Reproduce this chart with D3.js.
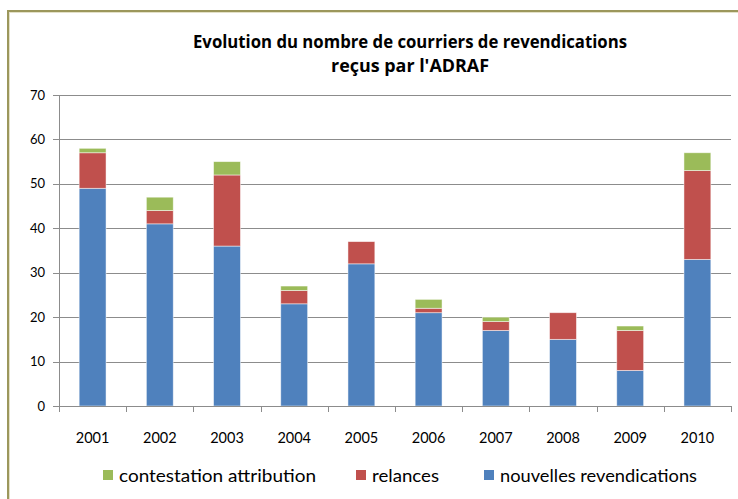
<!DOCTYPE html>
<html>
<head>
<meta charset="utf-8">
<script src="https://cdn.jsdelivr.net/npm/d3@7"></script>
<style>
body{margin:0;background:#fff;}
text{font-family:Lato,"Open Sans",sans-serif;fill:#000;}
</style>
</head>
<body>
<div id="chart-area"></div>
<script>
// data
var years=["2001","2002","2003","2004","2005","2006","2007","2008","2009","2010"];
var nouvelles=[49,41,36,23,32,21,17,15,8,33];
var relances=[8,3,16,3,5,1,2,6,9,20];
var contestation=[1,3,3,1,0,2,1,0,1,4];
var seriesNames=["nouvelles revendications","relances","contestation attribution"];
var seriesColors=["#4f81bd","#c0504d","#9bbb59"];
var yTicks=[0,10,20,30,40,50,60,70];

var W=738,H=499;
var margin={left:59,right:7,top:95,bottom:93};
var width=W-margin.left-margin.right;
var height=H-margin.top-margin.bottom;

var svg=d3.select("#chart-area").append("svg")
	.attr("width",W)
	.attr("height",H);

// outer frame
svg.append("rect")
	.attr("x",8).attr("y",11)
	.attr("width",W+10).attr("height",H+10)
	.attr("fill","none")
	.attr("stroke","#9c975c")
	.attr("stroke-width",2);
svg.append("rect")
	.attr("x",9.5).attr("y",12.5)
	.attr("width",W+10).attr("height",H+10)
	.attr("fill","none")
	.attr("stroke","#e4e1c8")
	.attr("stroke-width",1);

// title
svg.append("text")
	.attr("x",410).attr("y",48)
	.attr("text-anchor","middle")
	.attr("font-size","17px")
	.attr("font-weight","bold")
	.style("font-family","'Open Sans',sans-serif")
	.attr("textLength",434)
	.attr("lengthAdjust","spacingAndGlyphs")
	.text("Evolution du nombre de courriers de revendications");
svg.append("text")
	.attr("x",410).attr("y",72)
	.attr("text-anchor","middle")
	.attr("font-size","17px")
	.attr("font-weight","bold")
	.style("font-family","'Open Sans',sans-serif")
	.attr("textLength",158)
	.attr("lengthAdjust","spacingAndGlyphs")
	.text("reçus par l'ADRAF");

var g=svg.append("g")
	.attr("transform","translate("+margin.left+","+margin.top+")");

var x=d3.scaleBand()
	.domain(years)
	.range([0,width])
	.paddingInner(0.6)
	.paddingOuter(0.3);

var y=d3.scaleLinear()
	.domain([0,70])
	.range([height,0]);

// gridlines
g.append("g")
	.selectAll("line")
	.data(yTicks)
	.enter().append("line")
	.attr("x1",-6).attr("x2",width)
	.attr("y1",d=>Math.round(y(d))+0.5)
	.attr("y2",d=>Math.round(y(d))+0.5)
	.attr("stroke","#8c8c8c")
	.attr("stroke-width",1);

g.append("g")
	.selectAll("text")
	.data(yTicks)
	.enter().append("text")
	.attr("x",-14)
	.attr("y",d=>y(d)+4.5)
	.attr("text-anchor","end")
	.attr("font-size","13px")
	.text(d=>d);

// stacked bars
var table=years.map((yr,i)=>({year:yr,a:nouvelles[i],b:relances[i],c:contestation[i]}));
var stack=d3.stack().keys(["a","b","c"])(table);

g.selectAll("g.layer")
	.data(stack)
	.enter().append("g")
	.attr("class","layer")
	.attr("fill",(d,i)=>seriesColors[i])
	.selectAll("rect")
	.data(d=>d.filter(p=>p[1]>p[0]))
	.enter().append("rect")
	.attr("x",d=>x(d.data.year))
	.attr("y",d=>y(d[1]))
	.attr("width",x.bandwidth())
	.attr("height",d=>y(d[0])-y(d[1]))
	.attr("stroke","#ffffff")
	.attr("stroke-opacity",0.6)
	.attr("stroke-width",0.8);

// axes lines
g.append("line")
	.attr("x1",0.5).attr("x2",0.5)
	.attr("y1",0).attr("y2",height)
	.attr("stroke","#8c8c8c");
g.append("line")
	.attr("x1",0).attr("x2",width)
	.attr("y1",Math.round(height)+0.5).attr("y2",Math.round(height)+0.5)
	.attr("stroke","#8c8c8c");

g.append("g")
	.selectAll("line")
	.data(d3.range(years.length+1))
	.enter().append("line")
	.attr("x1",d=>Math.round(d*width/years.length)+0.5)
	.attr("x2",d=>Math.round(d*width/years.length)+0.5)
	.attr("y1",height).attr("y2",height+6)
	.attr("stroke","#8c8c8c");

g.append("g")
	.selectAll("text")
	.data(years)
	.enter().append("text")
	.attr("x",d=>x(d)+x.bandwidth()/2)
	.attr("y",height+37)
	.attr("text-anchor","middle")
	.attr("font-size","14.5px")
	.text(d=>d);

// legend
var legendItems=[
	{name:seriesNames[2],color:seriesColors[2],x:103,len:197},
	{name:seriesNames[1],color:seriesColors[1],x:356,len:67},
	{name:seriesNames[0],color:seriesColors[0],x:484,len:197}
];
var legend=svg.append("g");
legendItems.forEach(d=>{
	legend.append("rect")
		.attr("x",d.x).attr("y",470)
		.attr("width",10).attr("height",10)
		.attr("fill",d.color);
	legend.append("text")
		.attr("x",d.x+16).attr("y",482)
		.attr("font-size","18px")
		.attr("textLength",d.len)
		.attr("lengthAdjust","spacingAndGlyphs")
		.text(d.name);
});
</script>
</body>
</html>
